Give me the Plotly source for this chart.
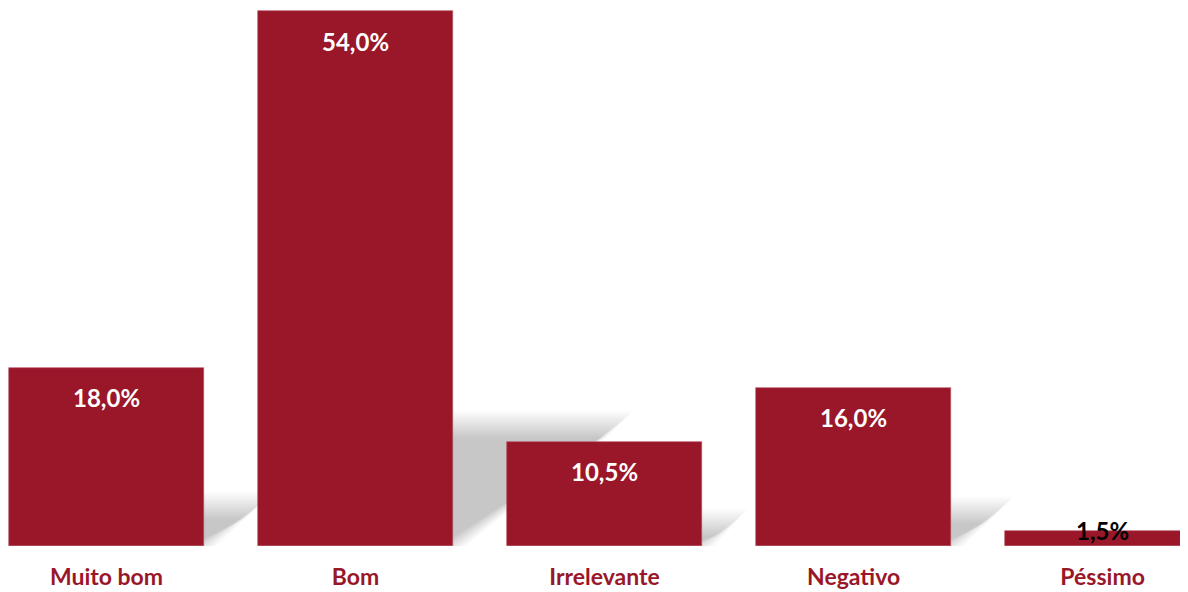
import plotly.graph_objects as go

categories = ["Muito bom", "Bom", "Irrelevante", "Negativo", "Péssimo"]
values = [18.0, 54.0, 10.5, 16.0, 1.5]
labels = ["18,0%", "54,0%", "10,5%", "16,0%", "1,5%"]

BAR_COLOR = "#991729"
BAR_WIDTH = 0.78
FONT = "Lato"

xs = list(range(len(categories)))

fig = go.Figure(go.Bar(
    x=xs,
    y=values,
    width=BAR_WIDTH,
    marker=dict(color=BAR_COLOR, line=dict(color="#b54a5a", width=0.6)),
    hoverinfo="skip",
))

# soft perspective shadows behind each bar (faint layers to fake a blur)
PX_X = 249.0    # pixels per category unit
PX_Y = 9.907    # pixels per value unit
n_layers = 14
for x, v in zip(xs, values):
    h = v * 0.228
    s = v * 0.0125
    for k in range(n_layers):
        d = -13 + 26 * k / (n_layers - 1)
        top = h + d / PX_Y
        if top <= 0:
            continue
        x0 = x - BAR_WIDTH / 2
        x1 = x + BAR_WIDTH / 2 + d / PX_X
        path = (f"M {x0},0 L {x1},0 L {x1 + s},{top} "
                f"L {x0 + s},{top} Z")
        fig.add_shape(type="path", path=path, xref="x", yref="y",
                      fillcolor="rgba(0,0,0,0.016)", line=dict(width=0),
                      layer="below")

for x, v, t in zip(xs, values, labels):
    inside = v > 5
    fig.add_annotation(
        x=x, y=v, text=t, showarrow=False,
        yanchor="middle", yshift=-30 if inside else 1,
        font=dict(family=FONT, size=24, weight="bold",
                  color="white" if inside else "black"),
    )

fig.update_layout(
    width=1180,
    height=584,
    margin=dict(l=0, r=0, t=0, b=46),
    plot_bgcolor="white",
    paper_bgcolor="white",
    showlegend=False,
    bargap=0,
)
fig.update_xaxes(
    range=[-0.3956, 4.343],
    tickvals=xs,
    ticktext=categories,
    tickfont=dict(family=FONT, size=23, weight="bold", color=BAR_COLOR),
    ticks="",
    ticklabelstandoff=15,
    showgrid=False,
    zeroline=False,
    showline=False,
    automargin=False,
)
fig.update_yaxes(
    range=[0, 54.31],
    visible=False,
    showgrid=False,
    zeroline=False,
)

fig.write_html("out.html")
